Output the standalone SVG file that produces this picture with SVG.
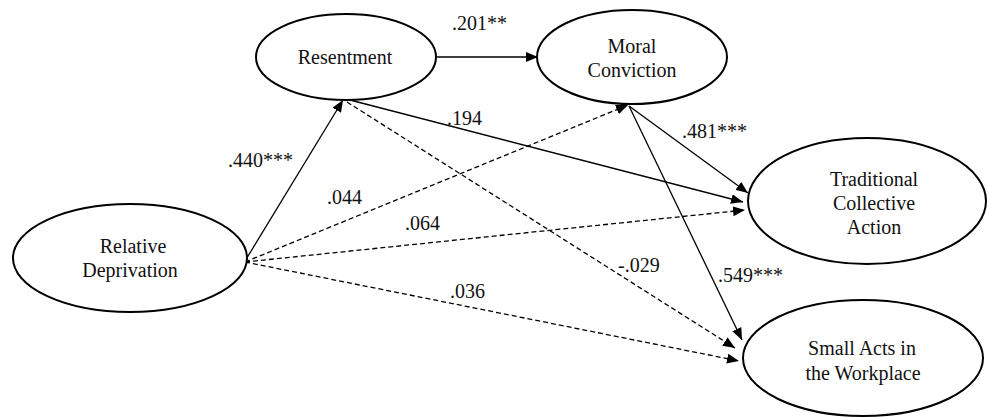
<svg xmlns="http://www.w3.org/2000/svg" width="988" height="418" viewBox="0 0 988 418">
<defs>
<marker id="arr" viewBox="0 0 12 10" refX="12" refY="5" markerWidth="12" markerHeight="10" markerUnits="userSpaceOnUse" orient="auto">
<path d="M0,0 L12,5 L0,10 z" fill="#000" stroke="none"/>
</marker>
</defs>
<style>
.node ellipse { fill: #fff; stroke: #000; stroke-width: 2; }
.node text, .lbl { font-family: "Liberation Serif", "Times New Roman", serif; font-size: 20px; fill: #111; text-anchor: middle; }
.lbl { text-anchor: start; }
.e { stroke: #000; stroke-width: 1.3; fill: none; marker-end: url(#arr); }
.d { stroke-dasharray: 5 3; }
</style>
<rect width="988" height="418" fill="#fff"/>
<g id="connectors">
<line class="e" x1="245" y1="261" x2="343" y2="100"/>
<line class="e" x1="437" y1="57" x2="538" y2="57"/>
<line class="e" x1="350" y1="100" x2="743" y2="202"/>
<line class="e" x1="629" y1="106" x2="748" y2="193"/>
<line class="e" x1="629" y1="106" x2="742" y2="340"/>
<line class="e d" x1="347" y1="102" x2="735" y2="348"/>
<line class="e d" x1="245" y1="262" x2="628" y2="105"/>
<line class="e d" x1="245" y1="262" x2="745" y2="210"/>
<line class="e d" x1="245" y1="262" x2="739" y2="361"/>
<text class="lbl" x="228" y="167">.440***</text>
<text class="lbl" x="452" y="30">.201**</text>
<text class="lbl" x="447" y="125">.194</text>
<text class="lbl" x="682" y="138">.481***</text>
<text class="lbl" x="327" y="204">.044</text>
<text class="lbl" x="405" y="230">.064</text>
<text class="lbl" x="450" y="298">.036</text>
<text class="lbl" x="618" y="272">-.029</text>
<text class="lbl" x="718" y="282">.549***</text>
</g>
<g id="resentment" class="node">
<ellipse cx="346" cy="57" rx="90" ry="43"/>
<text x="345" y="64">Resentment</text>
</g>
<g id="moral" class="node">
<ellipse cx="632" cy="57" rx="95" ry="47"/>
<text x="632" y="53">Moral</text>
<text x="632" y="77">Conviction</text>
</g>
<g id="relative" class="node">
<ellipse cx="130" cy="258" rx="117" ry="54"/>
<text x="133" y="253">Relative</text>
<text x="130" y="277">Deprivation</text>
</g>
<g id="traditional" class="node">
<ellipse cx="867" cy="201" rx="119" ry="63"/>
<text x="874" y="186">Traditional</text>
<text x="874" y="210">Collective</text>
<text x="874" y="234">Action</text>
</g>
<g id="small" class="node">
<ellipse cx="863" cy="358" rx="120" ry="58"/>
<text x="862" y="355">Small Acts in</text>
<text x="863" y="380">the Workplace</text>
</g>
</svg>
